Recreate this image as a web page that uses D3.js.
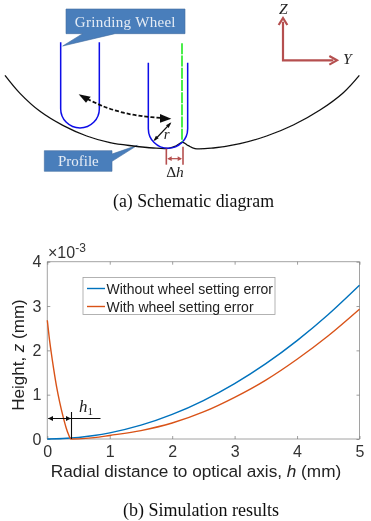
<!DOCTYPE html>
<html><head><meta charset="utf-8">
<script src="https://cdn.jsdelivr.net/npm/d3@7/dist/d3.min.js"></script>
<style>html,body{margin:0;padding:0;background:#fff}svg{display:block}</style>
</head><body><svg id="c" width="371" height="521"></svg>
<script>
// Simulation chart data
const xTicks=[0,1,2,3,4,5];
const yTicks=[0,1,2,3,4];
const legendLabels=["Without wheel setting error","With wheel setting error"];
const seriesColors=["#0072bd","#d95319"];
const blueH=[0,0.25,0.5,0.75,1,1.5,2,2.5,3,3.5,4,4.5,5];
const blueZ=[0,0.01,0.035,0.078,0.139,0.312,0.555,0.868,1.25,1.70,2.22,2.81,3.47];
const redH=[0,0.03,0.06,0.1,0.15,0.2,0.25,0.3,0.34,0.38,0.5,0.75,1,1.5,2,2.5,3,3.5,4,4.5,5];
const redZ=[2.68,2.3,1.98,1.6,1.17,0.82,0.52,0.26,0.1,0,0.003,0.03,0.08,0.19,0.36,0.61,0.94,1.33,1.8,2.33,2.93];
// Schematic geometry, in schematic units
const profile=[[15,226],[60,280],[120,334],[190,377],[260,408],[330,428],[400,438],[460,444],[505,445],[525,439],[548,427],[565,437],[585,446],[640,444],[720,431],[800,408],[880,375],[960,330],[1030,278],[1078,226]];
const wheelLeft=[182,445], wheelRight=[298,563], wheelTop=[127,188], wheelBottom=[384,445];
const dashArc=[[262,297],[310,319],[370,338],[430,349],[490,354]];
const calloutWheel=[[198,27],[555,27],[555,101],[345,101],[188,138],[248,101],[198,101]];
const calloutProfile=[[133,452],[336,452],[336,462],[412,436],[336,484],[336,514],[133,514]];

const svg=d3.select("#c");
const defs=svg.append("defs");
defs.append("filter").attr("id","soft").append("feGaussianBlur").attr("stdDeviation",0.3);
const sans="Liberation Sans, Arial, sans-serif", serif="Liberation Serif, Times New Roman, serif";

// ---------- schematic
const sx=d3.scaleLinear().domain([0,1113]).range([0,371]);
const sy=d3.scaleLinear().domain([0,660]).range([0,220]);
const sch=svg.append("g").attr("filter","url(#soft)");
const poly=d3.line().x(d=>sx(d[0])).y(d=>sy(d[1])).curve(d3.curveLinearClosed);
const open=d3.line().x(d=>sx(d[0])).y(d=>sy(d[1]));
const cl=d3.line().x(d=>sx(d[0])).y(d=>sy(d[1])).curve(d3.curveCatmullRom.alpha(0.5));
sch.append("path").attr("d",poly(calloutWheel)).attr("fill","#4a7ebb").attr("stroke","#3f6b9f").attr("stroke-width",.6);
sch.append("path").attr("d",poly(calloutProfile)).attr("fill","#4a7ebb").attr("stroke","#3f6b9f").attr("stroke-width",.6);
sch.append("text").attr("x",sx(376)).attr("y",sy(80)).attr("text-anchor","middle").attr("font-family",serif).attr("font-size",15).attr("fill","#e4ecf5").attr("letter-spacing",.3).text("Grinding Wheel");
sch.append("text").attr("x",sx(235)).attr("y",sy(498)).attr("text-anchor","middle").attr("font-family",serif).attr("font-size",15).attr("fill","#e4ecf5").text("Profile");

sch.append("path").attr("d",cl(profile)).attr("fill","none").attr("stroke","#111").attr("stroke-width",1.3);
wheelLeft.forEach((_,i)=>{
  const l=sx(wheelLeft[i]), r=sx(wheelRight[i]), rad=(r-l)/2, b=sy(wheelBottom[i]), t=sy(wheelTop[i]);
  const p=d3.path();
  p.moveTo(l,t); p.lineTo(l,b-rad); p.arc(l+rad,b-rad,rad,Math.PI,0,true); p.lineTo(r,t);
  sch.append("path").attr("d",p.toString()).attr("fill","none").attr("stroke","#1010e8").attr("stroke-width",1.5);
});
// green axis
sch.append("line").attr("x1",sx(546)).attr("x2",sx(546)).attr("y1",sy(130)).attr("y2",sy(425)).attr("stroke","#10e810").attr("stroke-width",1.5).attr("stroke-dasharray","11 1.2");
// dashed arc + heads
sch.append("path").attr("d",cl(dashArc)).attr("fill","none").attr("stroke","#111").attr("stroke-width",1.8).attr("stroke-dasharray","4 2");
sch.append("path").attr("d",poly([[236,283],[272,290],[258,308]])).attr("fill","#111");
sch.append("path").attr("d",poly([[514,356],[480,342],[480,368]])).attr("fill","#111");
// r arrow
sch.append("line").attr("x1",sx(511)).attr("y1",sy(370)).attr("x2",sx(464)).attr("y2",sy(420)).attr("stroke","#111").attr("stroke-width",1.2);
sch.append("path").attr("d",poly([[514,367],[498,376],[506,384]])).attr("fill","#111");
sch.append("path").attr("d",poly([[460,424],[476,415],[468,407]])).attr("fill","#111");
sch.append("text").attr("x",sx(500)).attr("y",sy(417)).attr("text-anchor","middle").attr("font-family",serif).attr("font-style","italic").attr("font-size",15).attr("fill","#222").text("r");
// delta h
const rd="#b5504f";
[[499,446,494],[549,440,494]].forEach(d=>sch.append("line").attr("x1",sx(d[0])).attr("x2",sx(d[0])).attr("y1",sy(d[1])).attr("y2",sy(d[2])).attr("stroke",rd).attr("stroke-width",1.6));
sch.append("line").attr("x1",sx(505)).attr("x2",sx(543)).attr("y1",sy(476)).attr("y2",sy(476)).attr("stroke",rd).attr("stroke-width",1.2);
sch.append("path").attr("d",poly([[502,476],[515,469],[515,483]])).attr("fill",rd);
sch.append("path").attr("d",poly([[546,476],[533,469],[533,483]])).attr("fill",rd);
const dh=sch.append("text").attr("x",sx(525)).attr("y",sy(532)).attr("text-anchor","middle").attr("font-family",serif).attr("font-size",15.5).attr("fill","#222");
dh.append("tspan").text("Δ");dh.append("tspan").attr("font-style","italic").text("h");
// Z / Y axes
sch.append("path").attr("d",open([[849,65],[849,181],[1000,181]])).attr("fill","none").attr("stroke",rd).attr("stroke-width",2.2);
sch.append("path").attr("d",open([[836,75],[849,54],[862,75]])).attr("fill","none").attr("stroke",rd).attr("stroke-width",2.2);
sch.append("path").attr("d",open([[988,168],[1011,181],[988,194]])).attr("fill","none").attr("stroke",rd).attr("stroke-width",2.2);
sch.append("text").attr("x",sx(850)).attr("y",sy(42)).attr("text-anchor","middle").attr("font-family",serif).attr("font-style","italic").attr("font-size",15.5).attr("fill","#222").text("Z");
sch.append("text").attr("x",sx(1042)).attr("y",sy(193)).attr("text-anchor","middle").attr("font-family",serif).attr("font-style","italic").attr("font-size",15.5).attr("fill","#222").text("Y");
sch.append("text").attr("x",193.5).attr("y",207).attr("text-anchor","middle").attr("font-family",serif).attr("font-size",17.8).attr("fill","#111").text("(a) Schematic diagram");

// ---------- chart
const x=d3.scaleLinear().domain([0,5]).range([47.3,359.5]);
const y=d3.scaleLinear().domain([0,4]).range([439,261.7]);
const ch=svg.append("g").attr("filter","url(#soft)");
const grey="#333";
ch.append("path").attr("d",`M${x(0)},${y(0)}V${y(4)}H${x(5)}V${y(0)}Z`).attr("fill","#fff").attr("stroke","#8a8a8a").attr("stroke-width",.8);
const ax=ch.append("g").attr("transform",`translate(0,${y(0)})`).call(d3.axisBottom(x).tickValues(xTicks).tickSize(-3).tickPadding(18).tickFormat(d3.format("d")));
const ay=ch.append("g").attr("transform",`translate(${x(0)},0)`).call(d3.axisLeft(y).tickValues(yTicks).tickSize(-3).tickPadding(6).tickFormat(d3.format("d")));
const ar=ch.append("g").attr("transform",`translate(${x(5)},0)`).call(d3.axisRight(y).tickValues(yTicks).tickSize(-3).tickFormat(""));
const at=ch.append("g").attr("transform",`translate(0,${y(4)})`).call(d3.axisTop(x).tickValues(xTicks).tickSize(-3).tickFormat(""));
[ax,ay,ar,at].forEach(g=>{g.select(".domain").remove();g.selectAll("line").attr("stroke","#777").attr("stroke-width",.7);
 g.selectAll("text").attr("font-family",sans).attr("font-size",16).attr("fill",grey);});
ax.selectAll("text").attr("dy","0");

const lineGen=(hs,zs)=>d3.line().x(d=>x(d[0])).y(d=>y(d[1])).curve(d3.curveMonotoneX)(d3.zip(hs,zs));
ch.append("path").attr("d",lineGen(blueH,blueZ)).attr("fill","none").attr("stroke",seriesColors[0]).attr("stroke-width",1.4);
ch.append("path").attr("d",lineGen(redH,redZ)).attr("fill","none").attr("stroke",seriesColors[1]).attr("stroke-width",1.4);

// exponent
const ex=ch.append("text").attr("x",48).attr("y",258).attr("font-family",sans).attr("font-size",16).attr("fill",grey);
ex.append("tspan").text("×10");ex.append("tspan").attr("dy",-6).attr("font-size",12).text("-3");

// legend
const lg=ch.append("g");
lg.append("rect").attr("x",83).attr("y",277.5).attr("width",192).attr("height",37).attr("fill","#fff").attr("stroke","#a0a0a0").attr("stroke-width",.8);
legendLabels.forEach((t,i)=>{
 const yy=288.5+i*18;
 lg.append("line").attr("x1",87).attr("x2",105).attr("y1",yy).attr("y2",yy).attr("stroke",seriesColors[i]).attr("stroke-width",1.4);
 lg.append("text").attr("x",106.5).attr("y",yy+5).attr("font-family",sans).attr("font-size",14).attr("fill","#222").text(t);
});

// h1 annotation
ch.append("line").attr("x1",x(0)+1).attr("x2",100.5).attr("y1",418.5).attr("y2",418.5).attr("stroke","#111").attr("stroke-width",1);
ch.append("line").attr("x1",71.5).attr("x2",71.5).attr("y1",412).attr("y2",439).attr("stroke","#111").attr("stroke-width",1.1);
ch.append("path").attr("d",`M48,418.5l5,-2.5v5Z`).attr("fill","#111");
ch.append("path").attr("d",`M71,418.5l-5,-2.5v5Z`).attr("fill","#111");
const h1=ch.append("text").attr("x",79).attr("y",412).attr("font-family",serif).attr("font-size",17).attr("fill","#222");
h1.append("tspan").attr("font-style","italic").text("h");h1.append("tspan").attr("font-size",11).attr("dy",3).text("1");

// labels
const xl=ch.append("text").attr("x",196).attr("y",476.7).attr("text-anchor","middle").attr("font-family",sans).attr("font-size",17.2).attr("fill","#222");
xl.append("tspan").text("Radial distance to optical axis, ");xl.append("tspan").attr("font-style","italic").text("h");xl.append("tspan").text(" (mm)");
const yl=ch.append("text").attr("transform","translate(24,355) rotate(-90)").attr("text-anchor","middle").attr("font-family",sans).attr("font-size",17).attr("fill","#222");
yl.append("tspan").text("Height, ");yl.append("tspan").attr("font-style","italic").text("z");yl.append("tspan").text(" (mm)");
ch.append("text").attr("x",201).attr("y",516).attr("text-anchor","middle").attr("font-family",serif).attr("font-size",18).attr("fill","#111").text("(b) Simulation results");
</script></body></html>
